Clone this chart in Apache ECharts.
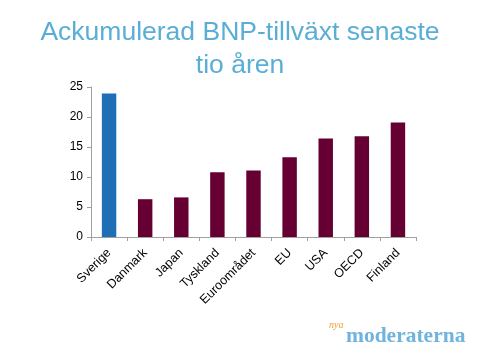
<!DOCTYPE html>
<html><head><meta charset="utf-8">
<script src="https://cdn.jsdelivr.net/npm/echarts@6/dist/echarts.min.js"></script>
<style>html,body{margin:0;padding:0;background:#fff}#c{width:480px;height:360px}</style>
</head><body><div id="c"></div>
<script>
const categories = ['Sverige','Danmark','Japan','Tyskland','Euroområdet','EU','USA','OECD','Finland'];
const values = [23.9, 6.3, 6.6, 10.8, 11.1, 13.3, 16.4, 16.8, 19.1];
const highlight = 'Sverige';
const yTicks = {min: 0, max: 25, interval: 5};

const chart = echarts.init(document.getElementById('c'), null, {renderer: 'canvas'});
chart.setOption({
  animation: false,
  backgroundColor: '#fff',
  title: {
    text: 'Ackumulerad BNP-tillväxt senaste\ntio åren',
    left: 'center', top: 11,
    textStyle: {color: '#5aaed6', fontFamily: 'Liberation Sans, Arial', fontSize: 26.5, fontWeight: 'normal', lineHeight: 33}
  },
  grid: {left: 91, right: 64, top: 87, bottom: 123},
  xAxis: {
    type: 'category', data: categories,
    axisLine: {lineStyle: {color: '#a0a0a0'}},
    axisTick: {show: true, alignWithLabel: false, length: 4, lineStyle: {color: '#a0a0a0'}},
    axisLabel: {rotate: 45, color: '#000', fontFamily: 'Liberation Sans, Arial', fontSize: 12.5, margin: 14}
  },
  yAxis: {
    type: 'value', min: yTicks.min, max: yTicks.max, interval: yTicks.interval,
    axisLine: {show: true, lineStyle: {color: '#a0a0a0'}},
    axisTick: {show: true, length: 4, lineStyle: {color: '#a0a0a0'}},
    splitLine: {show: false},
    axisLabel: {color: '#000', fontFamily: 'Liberation Sans, Arial', fontSize: 12, margin: 8}
  },
  series: [{
    type: 'bar', barWidth: '40%',
    data: values.map((v, i) => ({value: v, itemStyle: {color: categories[i] === highlight ? '#1f6fb7' : '#660033'}}))
  }],
  graphic: [
    {type: 'text', left: 346, top: 325, style: {text: 'moderaterna', fill: '#6fb3de', font: 'bold 21.5px "Liberation Serif", serif'}},
    {type: 'text', left: 329, top: 320, style: {text: 'nya', fill: '#f0a030', font: 'italic 10px "Liberation Serif", serif'}}
  ]
});
</script></body></html>
